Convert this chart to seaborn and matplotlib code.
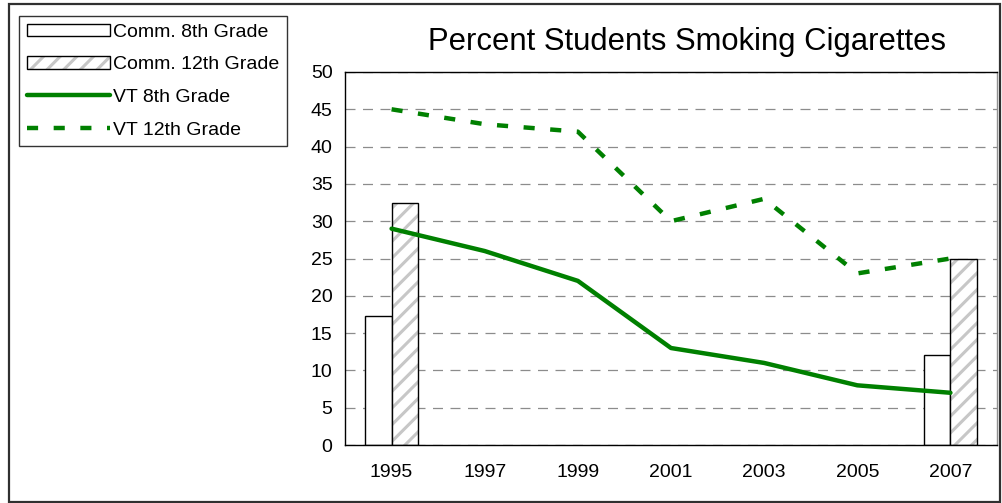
import numpy as np
import pandas as pd
import matplotlib
matplotlib.use('Agg')
import matplotlib.pyplot as plt
import seaborn as sns
from matplotlib.patches import Rectangle

years = ['1995', '1997', '1999', '2001', '2003', '2005', '2007']
comm_8th = [17.3, np.nan, np.nan, np.nan, np.nan, np.nan, 12.0]
comm_12th = [32.4, np.nan, np.nan, np.nan, np.nan, np.nan, 25.0]
vt_8th = [29, 26, 22, 13, 11, 8, 7]
vt_12th = [45, 43, 42, 30, 33, 23, 25]

sns.set_style('white')
plt.rcParams['font.family'] = ['Liberation Sans', 'DejaVu Sans']
plt.rcParams['hatch.linewidth'] = 2.2
plt.rcParams['text.color'] = 'black'
plt.rcParams['xtick.color'] = 'black'
plt.rcParams['ytick.color'] = 'black'

green = '#008000'
hatch_gray = (0.78, 0.78, 0.78, 1)
dash = (2.5, 3.5)

bars = pd.DataFrame({
    'year': years * 2,
    'value': comm_8th + comm_12th,
    'group': ['Comm. 8th Grade'] * 7 + ['Comm. 12th Grade'] * 7,
})

fig = plt.figure(figsize=(10.02, 5.03), dpi=100)
ax = fig.add_axes([345 / 1002, 58 / 503, 652 / 1002, 373 / 503])

sns.barplot(data=bars, x='year', y='value', hue='group', order=years,
            palette=['white', 'white'], width=0.56, edgecolor='black',
            linewidth=1, legend=False, ax=ax, zorder=2)
# right bar of each pair is the 12th grade one -> hatched
for p in ax.patches:
    cx = p.get_x() + p.get_width() / 2
    if cx > round(cx):
        p.set_hatch('//')
        p._hatch_color = hatch_gray

x = np.arange(len(years))
sns.lineplot(x=x, y=vt_8th, color=green, linewidth=3.2, ax=ax, zorder=3)
sns.lineplot(x=x, y=vt_12th, color=green, linewidth=3.2, ax=ax, zorder=3)
ax.get_lines()[-1].set_dashes(dash)

ax.set_xlim(-0.5, 6.5)
ax.set_ylim(0, 50)
ax.set_yticks(range(0, 51, 5))
ax.set_xticks(x)
ax.set_xticklabels(years)
ax.set_xticks(np.arange(-0.5, 7, 1), minor=True)
ax.tick_params(axis='x', which='major', length=0, pad=14, labelsize=14, labelcolor='black')
ax.tick_params(axis='x', which='minor', length=5, width=1, color='black', direction='out')
ax.tick_params(axis='y', length=5, width=1, color='black', direction='out',
               labelsize=14, pad=4, labelcolor='black')
ax.set_xlabel('')
ax.set_ylabel('')
ax.yaxis.grid(True, color='#8c8c8c', linestyle=(0, (8, 6)), linewidth=0.9, zorder=0)
ax.set_axisbelow(True)
for s in ['left', 'bottom', 'top']:
    ax.spines[s].set_color('black')
    ax.spines[s].set_linewidth(1)
ax.spines['right'].set_color('#909090')
ax.spines['right'].set_linewidth(1)

fig.text(687 / 1002, 1 - 42 / 503, 'Percent Students Smoking Cigarettes',
         ha='center', va='center', fontsize=22.3, color='black')

hatched = Rectangle((0, 0), 1, 1, facecolor='white', edgecolor='black', linewidth=1, hatch='//')
hatched._hatch_color = hatch_gray
handles = [
    Rectangle((0, 0), 1, 1, facecolor='white', edgecolor='black', linewidth=1),
    hatched,
    plt.Line2D([], [], color=green, linewidth=3.2),
    plt.Line2D([], [], color=green, linewidth=3.2, dashes=dash),
]
labels = ['Comm. 8th Grade', 'Comm. 12th Grade', 'VT 8th Grade', 'VT 12th Grade']
leg = fig.legend(handles, labels, loc='upper left',
                 bbox_to_anchor=(19 / 1002, 1 - 16 / 503), fontsize=14,
                 handlelength=4.3, handleheight=0.6, handletextpad=0.15,
                 labelspacing=0.8, borderpad=0.4, borderaxespad=0,
                 frameon=True, fancybox=False, edgecolor='black')
leg.get_frame().set_linewidth(1)
for t in leg.get_texts():
    t.set_color('black')

fig.patches.append(Rectangle((8.5 / 1002, 1.5 / 503), 991 / 1002, 497.5 / 503,
                             transform=fig.transFigure, fill=False,
                             edgecolor='#303030', linewidth=1.6))

fig.savefig('out.png', dpi=100)
